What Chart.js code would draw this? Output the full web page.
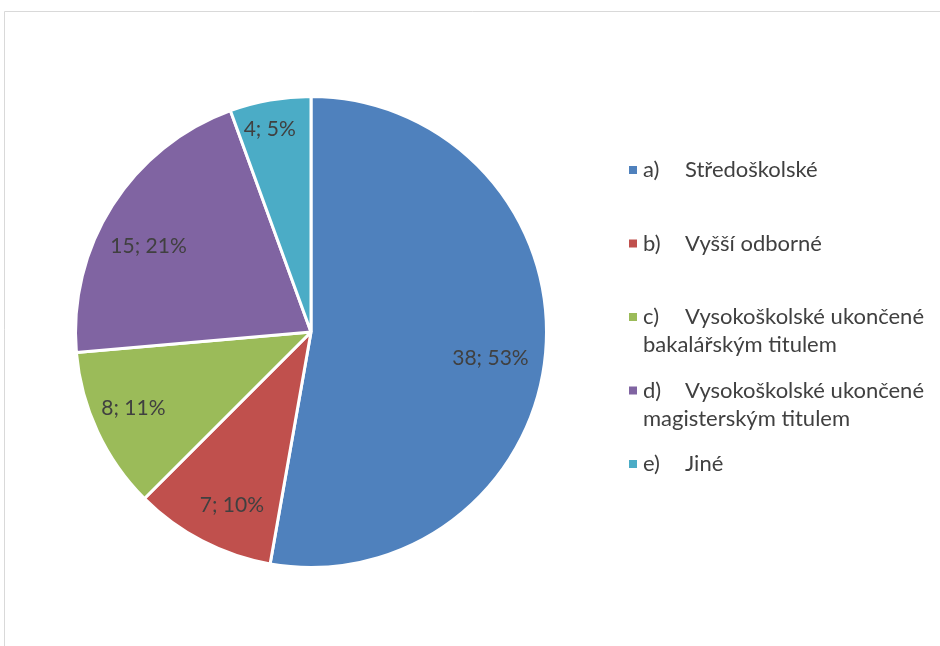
<!DOCTYPE html>
<html>
<head>
<meta charset="utf-8">
<script src="https://cdn.jsdelivr.net/npm/chart.js@4.4.1/dist/chart.umd.min.js"></script>
<style>
html,body{margin:0;padding:0;background:#fff;}
#wrap{width:940px;height:646px;position:relative;}
</style>
</head>
<body>
<div id="wrap"><canvas id="c" width="940" height="646"></canvas></div>
<script>
const letters = ["a)", "b)", "c)", "d)", "e)"];
const categories = ["Středoškolské", "Vyšší odborné", "Vysokoškolské ukončené bakalářským titulem", "Vysokoškolské ukončené magisterským titulem", "Jiné"];
const counts = [38, 7, 8, 15, 4];
const percentLabels = ["53%", "10%", "11%", "21%", "5%"];
const colors = ["#4F81BD", "#C0504D", "#9BBB59", "#8064A2", "#4BACC6"];

const FONT = "Lato, 'Open Sans', sans-serif";
const TEXT = "#404040";

const framePlugin = {
  id: 'frame',
  beforeDraw(chart) {
    const ctx = chart.ctx;
    ctx.save();
    ctx.fillStyle = '#fff';
    ctx.fillRect(0, 0, chart.width, chart.height);
    ctx.strokeStyle = '#d9d9d9';
    ctx.lineWidth = 1;
    ctx.beginPath();
    ctx.moveTo(4.5, chart.height + 5);
    ctx.lineTo(4.5, 11.5);
    ctx.lineTo(chart.width + 5, 11.5);
    ctx.stroke();
    ctx.restore();
  }
};

// "best fit" style placement: radial fraction and angular nudge (degrees) per slice
const labelFit = [
  { r: 0.77, da: 3.3 },
  { r: 0.81, da: -3.0 },
  { r: 0.82, da: 1.9 },
  { r: 0.78, da: -4.7 },
  { r: 0.88, da: -1.5 }
];

const labelPlugin = {
  id: 'sliceLabels',
  afterDatasetsDraw(chart) {
    const ctx = chart.ctx;
    const meta = chart.getDatasetMeta(0);
    ctx.save();
    ctx.font = "21px " + FONT;
    ctx.fillStyle = TEXT;
    ctx.textAlign = 'center';
    ctx.textBaseline = 'middle';
    meta.data.forEach((arc, i) => {
      const p = arc.getProps(['x', 'y', 'startAngle', 'endAngle', 'outerRadius'], true);
      const fit = labelFit[i] || { r: 0.8, da: 0 };
      const mid = (p.startAngle + p.endAngle) / 2 + fit.da * Math.PI / 180;
      const r = p.outerRadius * fit.r;
      const x = p.x + Math.cos(mid) * r;
      const y = p.y + Math.sin(mid) * r;
      ctx.fillText(counts[i] + "; " + percentLabels[i], x, y);
    });
    ctx.restore();
  }
};

const legendPlugin = {
  id: 'customLegend',
  afterDraw(chart) {
    const ctx = chart.ctx;
    ctx.save();
    ctx.font = "22px " + FONT;
    ctx.textBaseline = 'middle';
    const markerX = 629, letterX = 643, nameX = 685, maxX = 934;
    const firstY = 170, rowStep = 73.5, lineH = 28;
    categories.forEach((name, i) => {
      const y0 = firstY + i * rowStep;
      ctx.fillStyle = colors[i];
      ctx.fillRect(markerX, y0 - 4, 8, 8);
      ctx.fillStyle = TEXT;
      ctx.textAlign = 'left';
      ctx.fillText(letters[i], letterX, y0);
      const words = name.split(' ');
      let line = '', x = nameX, y = y0;
      words.forEach(w => {
        const test = line ? line + ' ' + w : w;
        if (ctx.measureText(test).width > maxX - x && line) {
          ctx.fillText(line, x, y);
          line = w; x = letterX; y += lineH;
        } else {
          line = test;
        }
      });
      if (line) ctx.fillText(line, x, y);
    });
    ctx.restore();
  }
};

new Chart(document.getElementById('c'), {
  type: 'pie',
  data: {
    labels: categories,
    datasets: [{
      data: counts,
      backgroundColor: colors,
      borderColor: '#ffffff',
      borderWidth: 3
    }]
  },
  options: {
    responsive: false,
    animation: false,
    layout: { padding: { left: 74, right: 392, top: 95, bottom: 77 } },
    plugins: { legend: { display: false }, tooltip: { enabled: false } }
  },
  plugins: [framePlugin, labelPlugin, legendPlugin]
});
</script>
</body>
</html>
